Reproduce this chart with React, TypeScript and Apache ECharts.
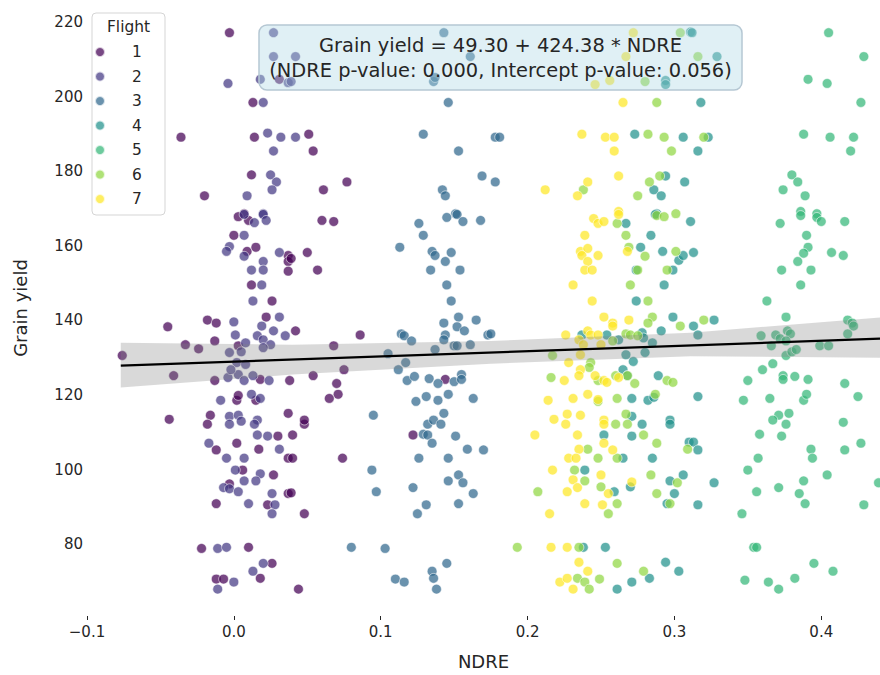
import React, { useEffect, useRef } from "react";
import * as echarts from "echarts";

const FONT = "DejaVu Sans";
const TXT = "#262626";

const flightNames = ["1", "2", "3", "4", "5", "6", "7"];
const flightColors = ["#440154", "#443983", "#31688e", "#21918c", "#35b779", "#90d743", "#fde725"];
const xTicks = [-0.1, 0, 0.1, 0.2, 0.3, 0.4];
const yTicks = [80, 100, 120, 140, 160, 180, 200, 220];

// fitted line and confidence band (as drawn in the reference)
const regX = [-0.077, 0.44];
const regY = [127.9, 135.1];
const bandX = [-0.077, 0.04, 0.175, 0.311, 0.44];
const bandLow = [122.0, 125.5, 128.4, 130.4, 130.0];
const bandHigh = [134.0, 133.5, 134.5, 136.7, 140.8];

const flight1 = [
  [-0.003, 217.1], [0.031, 204.6], [0.013, 198.4], [-0.036, 189.1], [0.014, 189.1], [0.051, 189.9], [0.054, 185.4],
  [0.012, 179.0], [-0.02, 173.4], [0.007, 168.6], [0.077, 177.1], [0.061, 175.0], [0.003, 167.8], [0.01, 166.8],
  [0.0, 162.8], [0.009, 158.5], [0.015, 159.6], [0.037, 157.4], [0.037, 155.8], [0.037, 153.2], [0.012, 149.5],
  [0.026, 145.2], [-0.045, 138.3], [-0.018, 140.1], [-0.012, 139.3], [0.022, 140.9], [-0.033, 133.5], [-0.024, 132.4],
  [-0.013, 134.5], [0.003, 133.2], [-0.076, 130.6], [-0.041, 125.2], [-0.013, 123.9], [0.018, 124.2], [0.038, 123.9],
  [0.002, 118.6], [0.003, 119.9], [0.015, 118.6], [-0.044, 113.5], [-0.016, 114.6], [0.037, 115.1], [-0.018, 112.2],
  [0.03, 109.0], [-0.012, 105.3], [0.002, 107.1], [0.017, 105.5], [0.037, 103.1], [0.006, 99.9], [0.027, 98.6],
  [-0.003, 96.2], [0.037, 93.6], [-0.012, 90.9], [0.023, 90.6], [-0.022, 78.9], [0.01, 79.2], [0.026, 74.9],
  [0.018, 70.9], [-0.012, 70.7], [-0.007, 70.7], [0.048, 112.2], [0.04, 109.3], [0.04, 103.1], [0.074, 103.1],
  [0.039, 93.8], [0.048, 88.2], [0.044, 68.0], [0.06, 166.8], [0.068, 166.5], [0.05, 158.2], [0.039, 156.6],
  [0.057, 153.5], [0.042, 137.2], [0.086, 136.1], [0.068, 133.2], [0.075, 126.8], [0.054, 125.2], [0.07, 123.1],
  [0.071, 120.2], [0.065, 119.1], [0.048, 113.3], [0.122, 109.3], [0.144, 124.2],
];

const flight2 = [
  [0.027, 217.1], [0.027, 210.7], [-0.004, 203.5], [0.018, 204.6], [0.037, 203.7], [0.02, 198.4], [0.023, 190.2],
  [0.032, 189.1], [0.027, 185.4], [0.025, 179.0], [0.029, 177.1], [0.026, 175.0], [0.009, 173.4], [0.02, 168.6],
  [0.042, 210.7], [0.039, 204.0], [0.042, 189.1], [0.007, 168.4], [0.014, 166.2], [0.02, 168.4], [0.022, 166.8],
  [0.007, 162.8], [-0.003, 159.8], [-0.005, 158.5], [0.007, 157.2], [0.031, 158.2], [0.02, 155.8], [0.012, 153.5],
  [0.02, 153.5], [0.019, 149.5], [0.013, 145.2], [0.0, 139.6], [0.031, 140.9], [0.019, 138.5], [0.027, 137.2],
  [0.035, 135.9], [0.016, 135.9], [0.001, 136.1], [0.008, 134.0], [0.02, 134.8], [0.025, 133.5], [0.02, 132.7],
  [-0.003, 131.4], [0.005, 131.6], [0.002, 128.7], [0.008, 128.2], [-0.004, 124.7], [0.003, 125.5], [0.007, 123.9],
  [0.013, 125.2], [0.024, 123.9], [-0.002, 126.8], [-0.009, 118.6], [0.012, 120.2], [0.018, 119.1], [-0.003, 114.3],
  [0.003, 114.6], [0.016, 113.3], [-0.003, 112.2], [0.005, 113.0], [0.014, 112.2], [0.016, 109.3], [0.023, 109.0],
  [-0.017, 107.1], [0.031, 105.5], [-0.005, 103.1], [0.007, 103.1], [0.001, 99.9], [0.018, 98.9], [0.007, 97.0],
  [0.015, 97.0], [-0.007, 95.2], [-0.003, 94.9], [0.003, 94.1], [0.026, 93.6], [0.01, 90.9], [0.028, 90.6],
  [0.026, 88.2], [-0.011, 78.9], [-0.005, 79.2], [0.02, 74.9], [0.013, 72.8], [0.0, 69.9], [-0.011, 68.0],
];

const flight3 = [
  [0.143, 217.1], [0.161, 210.7], [0.136, 204.0], [0.137, 205.1], [0.146, 198.4], [0.129, 189.9], [0.153, 185.4],
  [0.169, 178.7], [0.142, 175.0], [0.144, 173.4], [0.151, 168.6], [0.178, 189.1], [0.181, 189.1], [0.178, 177.1],
  [0.145, 167.6], [0.152, 168.4], [0.156, 166.5], [0.168, 166.8], [0.126, 166.0], [0.129, 162.8], [0.113, 159.6],
  [0.135, 158.5], [0.137, 157.4], [0.148, 158.2], [0.144, 155.8], [0.134, 153.5], [0.154, 153.5], [0.145, 149.5],
  [0.148, 145.2], [0.143, 139.3], [0.153, 140.9], [0.152, 138.3], [0.165, 140.1], [0.157, 137.2], [0.173, 136.1],
  [0.114, 136.4], [0.116, 135.9], [0.121, 134.5], [0.144, 136.1], [0.143, 134.8], [0.15, 133.2], [0.152, 133.2],
  [0.161, 133.5], [0.137, 132.2], [0.105, 131.1], [0.117, 128.7], [0.112, 126.8], [0.118, 123.9], [0.123, 125.0],
  [0.133, 124.4], [0.139, 123.1], [0.15, 123.6], [0.155, 125.5], [0.155, 124.2], [0.124, 118.3], [0.131, 119.6],
  [0.139, 118.6], [0.146, 120.2], [0.163, 119.1], [0.095, 114.6], [0.143, 115.1], [0.175, 136.4], [0.132, 112.2],
  [0.136, 113.3], [0.141, 112.2], [0.129, 109.5], [0.132, 109.3], [0.135, 107.1], [0.151, 109.0], [0.126, 103.1],
  [0.146, 103.1], [0.159, 105.5], [0.17, 105.3], [0.094, 99.9], [0.153, 98.6], [0.146, 97.0], [0.156, 96.5],
  [0.122, 95.2], [0.097, 94.1], [0.163, 93.6], [0.131, 90.6], [0.125, 88.2], [0.153, 90.9], [0.08, 79.2],
  [0.103, 78.9], [0.145, 74.9], [0.135, 72.8], [0.136, 70.9], [0.11, 70.7], [0.116, 69.9], [0.138, 68.0],
];

const flight4 = [
  [0.311, 217.3], [0.294, 204.3], [0.294, 203.2], [0.273, 189.9], [0.306, 189.1], [0.294, 178.7], [0.307, 177.1],
  [0.286, 175.0], [0.291, 173.4], [0.288, 168.6], [0.312, 217.1], [0.329, 210.7], [0.318, 198.4], [0.323, 189.1],
  [0.316, 185.4], [0.267, 166.0], [0.284, 162.8], [0.277, 159.6], [0.292, 158.5], [0.303, 156.1], [0.306, 157.4],
  [0.274, 153.5], [0.299, 153.5], [0.293, 149.5], [0.274, 145.2], [0.299, 140.9], [0.291, 137.2], [0.278, 136.7],
  [0.279, 135.3], [0.254, 136.1], [0.262, 134.8], [0.237, 136.1], [0.285, 134.0], [0.267, 130.8], [0.272, 129.0],
  [0.28, 131.4], [0.265, 126.8], [0.268, 125.2], [0.289, 125.2], [0.271, 119.1], [0.282, 118.6], [0.286, 119.4],
  [0.297, 113.3], [0.271, 114.3], [0.311, 166.5], [0.287, 168.4], [0.313, 158.2], [0.313, 138.5], [0.316, 136.1],
  [0.327, 140.1], [0.316, 119.6], [0.252, 109.3], [0.271, 109.0], [0.278, 112.2], [0.297, 112.2], [0.265, 103.1],
  [0.285, 103.1], [0.239, 99.9], [0.259, 94.1], [0.27, 95.4], [0.297, 97.0], [0.306, 98.6], [0.3, 93.6],
  [0.295, 90.9], [0.238, 79.2], [0.253, 79.2], [0.294, 75.2], [0.303, 72.8], [0.283, 70.9], [0.271, 69.9],
  [0.261, 68.0], [0.31, 107.4], [0.313, 107.4], [0.316, 105.3], [0.327, 96.5], [0.316, 90.6],
];

const flight5 = [
  [0.405, 217.1], [0.429, 210.7], [0.391, 204.6], [0.404, 203.5], [0.427, 198.4], [0.388, 189.9], [0.406, 189.1],
  [0.422, 189.1], [0.42, 185.4], [0.38, 179.0], [0.384, 177.1], [0.374, 175.0], [0.389, 173.4], [0.386, 169.2],
  [0.397, 168.6], [0.372, 166.0], [0.386, 168.1], [0.397, 167.6], [0.4, 166.5], [0.416, 166.5], [0.39, 162.8],
  [0.391, 159.6], [0.388, 158.0], [0.384, 155.8], [0.407, 158.2], [0.415, 157.4], [0.373, 153.5], [0.393, 153.5],
  [0.386, 149.5], [0.363, 145.2], [0.376, 140.9], [0.418, 140.1], [0.421, 139.3], [0.422, 138.5], [0.359, 135.9],
  [0.369, 136.1], [0.372, 135.1], [0.377, 137.2], [0.379, 136.4], [0.376, 134.5], [0.366, 133.2], [0.418, 136.4],
  [0.399, 133.2], [0.405, 133.2], [0.376, 130.6], [0.38, 131.6], [0.383, 132.2], [0.367, 128.4], [0.36, 126.8],
  [0.35, 123.9], [0.374, 125.2], [0.374, 124.2], [0.382, 125.0], [0.391, 124.2], [0.416, 123.1], [0.347, 118.6],
  [0.365, 119.1], [0.388, 118.6], [0.39, 120.2], [0.425, 119.6], [0.371, 114.6], [0.378, 115.1], [0.367, 113.3],
  [0.415, 112.7], [0.376, 112.2], [0.358, 109.5], [0.373, 109.0], [0.393, 105.5], [0.394, 103.1], [0.416, 105.3],
  [0.427, 107.1], [0.357, 103.1], [0.35, 99.9], [0.404, 98.6], [0.388, 97.0], [0.439, 96.5], [0.356, 94.1],
  [0.371, 95.2], [0.385, 93.6], [0.389, 90.9], [0.429, 90.6], [0.346, 88.2], [0.354, 79.2], [0.356, 79.2],
  [0.395, 74.9], [0.408, 72.8], [0.382, 70.9], [0.348, 70.4], [0.364, 69.9], [0.371, 68.0],
];

const flight6 = [
  [0.304, 217.1], [0.28, 204.0], [0.288, 198.4], [0.282, 189.9], [0.293, 189.1], [0.298, 185.4], [0.29, 178.7],
  [0.283, 177.1], [0.238, 175.0], [0.275, 173.4], [0.301, 168.6], [0.316, 210.7], [0.32, 189.1], [0.261, 166.0],
  [0.267, 162.8], [0.269, 159.6], [0.28, 157.2], [0.275, 153.5], [0.27, 149.5], [0.282, 145.2], [0.285, 140.9],
  [0.282, 139.3], [0.304, 138.5], [0.267, 136.4], [0.27, 136.1], [0.258, 134.5], [0.275, 135.9], [0.217, 130.6],
  [0.243, 128.7], [0.242, 127.4], [0.216, 124.7], [0.248, 123.9], [0.26, 125.2], [0.268, 125.2], [0.273, 123.1],
  [0.295, 123.9], [0.299, 123.4], [0.261, 119.1], [0.248, 118.3], [0.287, 120.2], [0.301, 158.5], [0.295, 153.5],
  [0.288, 168.1], [0.293, 167.8], [0.267, 114.9], [0.32, 140.1], [0.207, 94.1], [0.193, 79.2], [0.232, 99.9],
  [0.239, 97.0], [0.241, 105.5], [0.248, 103.1], [0.261, 103.1], [0.26, 112.2], [0.268, 112.2], [0.279, 109.3],
  [0.288, 107.1], [0.284, 98.6], [0.302, 96.5], [0.288, 93.6], [0.297, 90.9], [0.261, 90.9], [0.255, 88.2],
  [0.25, 95.4], [0.235, 79.2], [0.261, 74.9], [0.279, 72.8], [0.234, 70.9], [0.239, 69.9], [0.242, 68.0],
  [0.249, 70.7], [0.309, 105.5],
];

const flight7 = [
  [0.272, 217.1], [0.267, 210.7], [0.256, 204.3], [0.246, 203.2], [0.265, 198.4], [0.237, 189.9], [0.253, 189.1],
  [0.259, 189.1], [0.259, 185.4], [0.262, 178.7], [0.241, 177.1], [0.212, 175.0], [0.234, 173.4], [0.262, 169.2],
  [0.245, 167.3], [0.248, 166.0], [0.252, 166.5], [0.262, 168.4], [0.239, 162.8], [0.236, 158.5], [0.241, 159.3],
  [0.237, 157.4], [0.248, 157.4], [0.241, 155.8], [0.239, 153.5], [0.244, 153.5], [0.268, 158.5], [0.231, 149.5],
  [0.244, 145.2], [0.252, 140.9], [0.258, 139.3], [0.258, 138.5], [0.269, 140.1], [0.226, 136.1], [0.241, 137.2],
  [0.243, 136.1], [0.248, 136.1], [0.235, 134.8], [0.238, 133.5], [0.236, 130.8], [0.25, 133.5], [0.228, 128.7],
  [0.236, 126.8], [0.235, 125.2], [0.246, 125.2], [0.252, 123.9], [0.254, 123.4], [0.262, 124.7], [0.225, 123.9],
  [0.214, 118.6], [0.231, 119.1], [0.241, 120.2], [0.248, 118.8], [0.218, 113.5], [0.227, 114.9], [0.236, 114.6],
  [0.252, 113.3], [0.205, 109.3], [0.226, 112.2], [0.234, 109.3], [0.235, 105.5], [0.228, 103.1], [0.233, 103.1],
  [0.252, 112.2], [0.252, 107.1], [0.258, 105.3], [0.217, 99.9], [0.231, 97.3], [0.234, 95.2], [0.227, 94.1],
  [0.25, 98.6], [0.255, 93.6], [0.239, 90.9], [0.251, 90.6], [0.271, 96.7], [0.215, 88.2], [0.216, 79.2],
  [0.227, 79.2], [0.235, 75.2], [0.241, 72.8], [0.222, 69.9], [0.227, 70.9], [0.231, 68.0],
];

const flights = [flight1, flight2, flight3, flight4, flight5, flight6, flight7];

export default function App() {
  const ref = useRef<HTMLDivElement>(null);

  useEffect(() => {
    if (!ref.current) return;
    const chart = echarts.init(ref.current, null, { renderer: "svg" });

    const scatterSeries = flights.map((data, i) => ({
      type: "scatter",
      name: flightNames[i],
      data,
      symbolSize: 9.8,
      itemStyle: {
        color: flightColors[i],
        opacity: 0.72,
        borderColor: "#ffffff",
        borderWidth: 0.8,
      },
      z: 2,
    }));

    const option: any = {
      animation: false,
      backgroundColor: "#ffffff",
      textStyle: { fontFamily: FONT, color: TXT },
      grid: { left: 87, right: 0, top: 0, bottom: 55, containLabel: false },
      xAxis: {
        type: "value",
        min: -0.1,
        max: 0.44,
        name: "NDRE",
        nameLocation: "middle",
        nameGap: 36,
        nameTextStyle: { fontFamily: FONT, fontSize: 18, color: TXT },
        axisLine: { show: false },
        splitLine: { show: false },
        axisTick: { show: true, customValues: xTicks, length: 4, lineStyle: { color: TXT, width: 1 } },
        axisLabel: {
          customValues: xTicks,
          fontFamily: FONT,
          fontSize: 15,
          color: TXT,
          margin: 8,
          formatter: (v: number) => (v < 0 ? "\u2212" : "") + Math.abs(v).toFixed(1),
        },
      },
      yAxis: {
        type: "value",
        min: 60.8,
        max: 225.86,
        name: "Grain yield",
        nameLocation: "middle",
        nameGap: 58,
        nameTextStyle: { fontFamily: FONT, fontSize: 18, color: TXT },
        axisLine: { show: false },
        splitLine: { show: false },
        axisTick: { show: false },
        axisLabel: {
          customValues: yTicks,
          fontFamily: FONT,
          fontSize: 15,
          color: TXT,
          margin: 4,
          formatter: (v: number) => String(Math.round(v)),
        },
      },
      legend: {
        data: flightNames,
        orient: "vertical",
        left: 94,
        top: 44,
        itemWidth: 40,
        itemHeight: 10,
        itemGap: 8.5,
        padding: 0,
        icon: "circle",
        z: 7,
        textStyle: { fontFamily: FONT, fontSize: 15.4, color: TXT, lineHeight: 16, padding: [0, 0, 0, 7] },
      },
      graphic: [
        {
          type: "rect",
          z: 5,
          shape: { x: 92, y: 13, width: 73, height: 202, r: 4 },
          style: { fill: "rgba(255,255,255,0.85)", stroke: "#d5d5d5", lineWidth: 1 },
        },
        {
          type: "text",
          z: 6,
          x: 128.5,
          y: 27,
          style: { text: "Flight", fontFamily: FONT, fontSize: 15.4, fill: TXT, align: "center", verticalAlign: "middle" },
        },
        {
          type: "rect",
          z: 10,
          shape: { x: 259, y: 25, width: 483, height: 65, r: 8 },
          style: { fill: "rgba(173,216,230,0.38)", stroke: "#b5c7d3", lineWidth: 1.5 },
        },
        {
          type: "text",
          z: 11,
          x: 500.5,
          y: 45,
          style: {
            text: "Grain yield = 49.30 + 424.38 * NDRE",
            fontFamily: FONT,
            fontSize: 19.4,
            fill: TXT,
            align: "center",
            verticalAlign: "middle",
          },
        },
        {
          type: "text",
          z: 11,
          x: 500.5,
          y: 70,
          style: {
            text: "(NDRE p-value: 0.000, Intercept p-value: 0.056)",
            fontFamily: FONT,
            fontSize: 19.4,
            fill: TXT,
            align: "center",
            verticalAlign: "middle",
          },
        },
      ],
      series: [
        ...scatterSeries,
        {
          type: "custom",
          name: "CI",
          silent: true,
          z: 3,
          data: [[bandX[0], bandLow[0]]],
          renderItem: (_params: any, api: any) => {
            const upper = bandX.map((x, i) => api.coord([x, bandHigh[i]]));
            const lower = bandX.map((x, i) => api.coord([x, bandLow[i]])).reverse();
            return {
              type: "polygon",
              shape: { points: upper.concat(lower) },
              style: { fill: "rgba(128,128,128,0.3)", stroke: "none" },
            };
          },
        },
        {
          type: "line",
          name: "fit",
          silent: true,
          z: 4,
          symbol: "none",
          data: regX.map((x, i) => [x, regY[i]]),
          lineStyle: { color: "#000000", width: 2.2 },
        },
      ],
    };

    chart.setOption(option);
    return () => chart.dispose();
  }, []);

  return (
    <div
      ref={ref}
      style={{ position: "fixed", left: 0, top: 0, width: 880, height: 675, background: "#fff" }}
    />
  );
}
